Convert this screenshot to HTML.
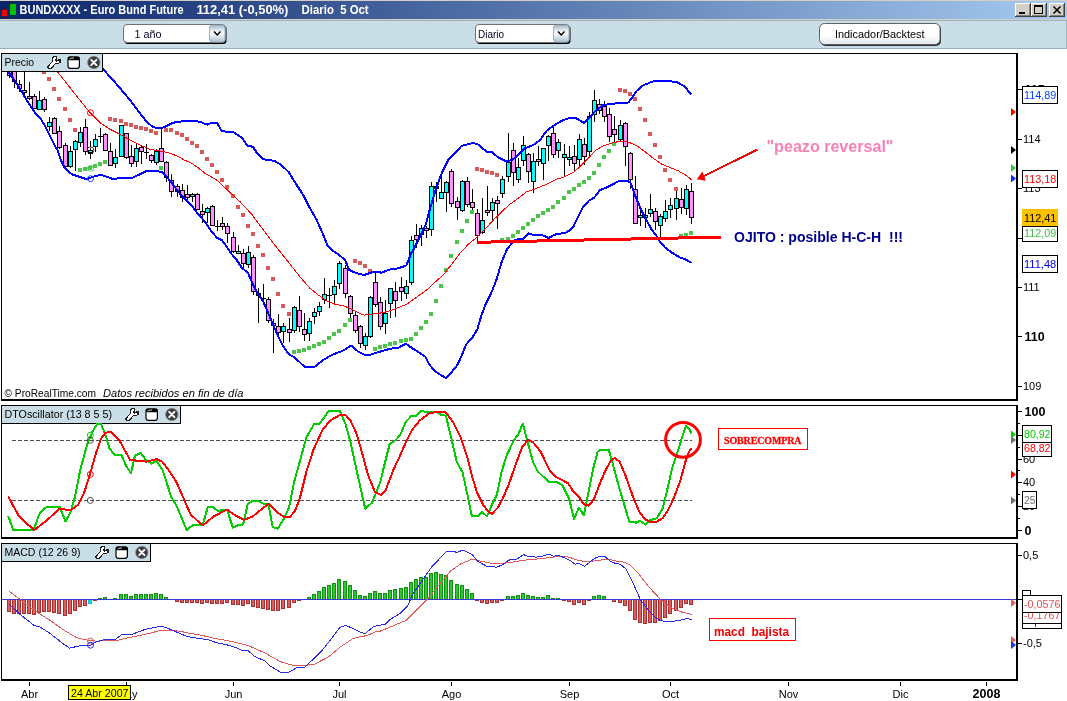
<!DOCTYPE html>
<html><head><meta charset="utf-8"><title>BUNDXXXX - Euro Bund Future</title>
<style>
html,body{margin:0;padding:0;background:#fff;}
body{width:1067px;height:701px;overflow:hidden;font-family:"Liberation Sans",sans-serif;}
svg{display:block;position:absolute;left:0;top:0;will-change:transform;}
text{font-family:"Liberation Sans",sans-serif;}
.serif{font-family:"Liberation Serif",serif;}
.ce{shape-rendering:crispEdges;}
</style></head><body>
<svg width="1067" height="701" viewBox="0 0 1067 701">
<defs>
<linearGradient id="tg" x1="0" x2="1" y1="0" y2="0"><stop offset="0" stop-color="#0a246a"/><stop offset="1" stop-color="#a6caf0"/></linearGradient>
<linearGradient id="bg1" x1="0" x2="0" y1="0" y2="1"><stop offset="0" stop-color="#ffffff"/><stop offset="0.55" stop-color="#ffffff"/><stop offset="1" stop-color="#dfe8ee"/></linearGradient>
<linearGradient id="dd" x1="0" x2="0" y1="0" y2="1"><stop offset="0" stop-color="#9fbccb"/><stop offset="0.45" stop-color="#ffffff"/><stop offset="1" stop-color="#a9c3d0"/></linearGradient>
<pattern id="dots" width="4" height="4" patternUnits="userSpaceOnUse"><rect width="4" height="4" fill="#c8dce6"/><rect x="1" y="0" width="1" height="1" fill="#d6e6ee"/><rect x="3" y="2" width="1" height="1" fill="#d6e6ee"/></pattern>
<clipPath id="cpMain"><rect x="2" y="54" width="1014" height="345"/></clipPath>
<clipPath id="cpDto"><rect x="2" y="406" width="1014" height="131"/></clipPath>
<clipPath id="cpMacd"><rect x="2" y="544" width="1014" height="135"/></clipPath>
</defs>
<rect width="1067" height="701" fill="#ffffff"/>

<g class="ce">
<rect x="0" y="0" width="1067" height="1" fill="#d4d0c8"/>
<rect x="0" y="1" width="1067" height="18" fill="url(#tg)"/>
<rect x="0" y="19" width="1067" height="1" fill="#d4d0c8"/>
<rect x="0" y="20" width="1067" height="29" fill="url(#dots)"/>
<rect x="0" y="20" width="1067" height="1" fill="#9fb3bd"/>
<rect x="0" y="48" width="1067" height="1" fill="#9ab0ba"/>
<rect x="1066" y="20" width="1" height="29" fill="#9db1bf"/>
<rect x="2" y="10" width="5" height="6" fill="#ff0000"/><rect x="4" y="8" width="1" height="2" fill="#800000"/><rect x="4" y="16" width="1" height="2" fill="#800000"/>
<rect x="10" y="4" width="6" height="11" fill="#00c000"/><rect x="12" y="2" width="1" height="2" fill="#004000"/><rect x="12" y="15" width="1" height="3" fill="#004000"/>
</g>
<g fill="#ffffff" font-weight="bold" font-size="12px">
<text x="19.6" y="14.2" textLength="164" lengthAdjust="spacingAndGlyphs">BUNDXXXX - Euro Bund Future</text>
<text x="196.4" y="14.2" font-size="12px" textLength="92" lengthAdjust="spacingAndGlyphs">112,41 (-0,50%)</text>
<text x="301.6" y="14.2" textLength="67" lengthAdjust="spacingAndGlyphs" xml:space="preserve" style="white-space:pre">Diario  5 Oct</text>
</g>
<g class="ce"><rect x="1015" y="3" width="16" height="14" fill="#404040"/><rect x="1015" y="3" width="15" height="13" fill="#ffffff"/><rect x="1016" y="4" width="14" height="12" fill="#808080"/><rect x="1016" y="4" width="13" height="11" fill="#d4d0c8"/></g>
<g class="ce"><rect x="1031" y="3" width="16" height="14" fill="#404040"/><rect x="1031" y="3" width="15" height="13" fill="#ffffff"/><rect x="1032" y="4" width="14" height="12" fill="#808080"/><rect x="1032" y="4" width="13" height="11" fill="#d4d0c8"/></g>
<g class="ce"><rect x="1049" y="3" width="16" height="14" fill="#404040"/><rect x="1049" y="3" width="15" height="13" fill="#ffffff"/><rect x="1050" y="4" width="14" height="12" fill="#808080"/><rect x="1050" y="4" width="13" height="11" fill="#d4d0c8"/></g>
<g class="ce" fill="#000">
<rect x="1019" y="12" width="6" height="2"/>
<rect x="1034" y="5" width="9" height="2"/><rect x="1034" y="5" width="1" height="9"/><rect x="1042" y="5" width="1" height="9"/><rect x="1034" y="13" width="9" height="1"/>
</g>
<path d="M1053.5 6.5 L1060.5 13.5 M1060.5 6.5 L1053.5 13.5" stroke="#000" stroke-width="1.6" fill="none"/>
<rect x="124.5" y="25.5" width="102" height="18.5" rx="3.5" fill="#000"/>
<rect x="123.5" y="24.5" width="102" height="18" rx="3.5" fill="#ffffff" stroke="#707070" stroke-width="1"/>
<rect x="209.5" y="25" width="15.5" height="17" rx="3" fill="url(#dd)" stroke="#8fa3ae" stroke-width="0.8"/>
<path d="M214.0 31.5 L217.2 35 L220.5 31.5" stroke="#000" stroke-width="1.5" fill="none"/>
<text x="134.5" y="37.5" font-size="11px" fill="#000020" textLength="27" lengthAdjust="spacingAndGlyphs">1 año</text>
<rect x="476.5" y="25.5" width="94" height="18.5" rx="3.5" fill="#000"/>
<rect x="475.5" y="24.5" width="94" height="18" rx="3.5" fill="#ffffff" stroke="#707070" stroke-width="1"/>
<rect x="553.5" y="25" width="15.5" height="17" rx="3" fill="url(#dd)" stroke="#8fa3ae" stroke-width="0.8"/>
<path d="M558.0 31.5 L561.2 35 L564.5 31.5" stroke="#000" stroke-width="1.5" fill="none"/>
<text x="478" y="37.5" font-size="11px" fill="#000020" textLength="26" lengthAdjust="spacingAndGlyphs">Diario</text>
<rect x="820.5" y="24.5" width="120.5" height="21.5" rx="5" fill="#303030"/>
<rect x="819.5" y="23.5" width="120.5" height="21" rx="5" fill="url(#bg1)" stroke="#606060" stroke-width="1"/>
<text x="835" y="38" font-size="11px" fill="#000" textLength="89.5" lengthAdjust="spacingAndGlyphs">Indicador/Backtest</text>
<g class="ce" fill="#000"><rect x="1" y="53" width="1017" height="1"/><rect x="1" y="53" width="1" height="348"/><rect x="1016" y="53" width="2" height="348"/><rect x="1" y="399" width="1017" height="2"/></g>
<g class="ce" fill="#000"><rect x="1" y="405" width="1017" height="1"/><rect x="1" y="405" width="1" height="134"/><rect x="1016" y="405" width="2" height="134"/><rect x="1" y="537" width="1017" height="2"/></g>
<g class="ce" fill="#000"><rect x="1" y="543" width="1017" height="1"/><rect x="1" y="543" width="1" height="138"/><rect x="1016" y="543" width="2" height="138"/><rect x="1" y="679" width="1017" height="2"/></g>
<g clip-path="url(#cpMain)">
<g class="ce">
<rect x="42" y="70" width="4" height="4" fill="#d65a5a"/>
<rect x="47" y="77" width="4" height="4" fill="#d65a5a"/>
<rect x="52" y="87" width="4" height="4" fill="#d65a5a"/>
<rect x="57" y="97" width="4" height="4" fill="#d65a5a"/>
<rect x="63" y="107" width="4" height="4" fill="#d65a5a"/>
<rect x="68" y="118" width="4" height="4" fill="#d65a5a"/>
<rect x="73" y="128" width="4" height="4" fill="#d65a5a"/>
<rect x="78" y="168" width="4" height="4" fill="#4cc44c"/>
<rect x="83" y="167" width="4" height="4" fill="#4cc44c"/>
<rect x="88" y="166" width="4" height="4" fill="#4cc44c"/>
<rect x="93" y="164" width="4" height="4" fill="#4cc44c"/>
<rect x="98" y="162" width="4" height="4" fill="#4cc44c"/>
<rect x="103" y="160" width="4" height="4" fill="#4cc44c"/>
<rect x="108" y="117" width="4" height="4" fill="#d65a5a"/>
<rect x="113" y="118" width="4" height="4" fill="#d65a5a"/>
<rect x="119" y="119" width="4" height="4" fill="#d65a5a"/>
<rect x="124" y="122" width="4" height="4" fill="#d65a5a"/>
<rect x="129" y="123" width="4" height="4" fill="#d65a5a"/>
<rect x="134" y="125" width="4" height="4" fill="#d65a5a"/>
<rect x="139" y="126" width="4" height="4" fill="#d65a5a"/>
<rect x="144" y="127" width="4" height="4" fill="#d65a5a"/>
<rect x="149" y="129" width="4" height="4" fill="#d65a5a"/>
<rect x="154" y="131" width="4" height="4" fill="#d65a5a"/>
<rect x="159" y="166" width="4" height="4" fill="#4cc44c"/>
<rect x="164" y="128" width="4" height="4" fill="#d65a5a"/>
<rect x="169" y="128" width="4" height="4" fill="#d65a5a"/>
<rect x="175" y="131" width="4" height="4" fill="#d65a5a"/>
<rect x="180" y="133" width="4" height="4" fill="#d65a5a"/>
<rect x="185" y="137" width="4" height="4" fill="#d65a5a"/>
<rect x="190" y="141" width="4" height="4" fill="#d65a5a"/>
<rect x="195" y="144" width="4" height="4" fill="#d65a5a"/>
<rect x="200" y="150" width="4" height="4" fill="#d65a5a"/>
<rect x="205" y="157" width="4" height="4" fill="#d65a5a"/>
<rect x="210" y="163" width="4" height="4" fill="#d65a5a"/>
<rect x="215" y="170" width="4" height="4" fill="#d65a5a"/>
<rect x="220" y="178" width="4" height="4" fill="#d65a5a"/>
<rect x="225" y="185" width="4" height="4" fill="#d65a5a"/>
<rect x="231" y="194" width="4" height="4" fill="#d65a5a"/>
<rect x="236" y="205" width="4" height="4" fill="#d65a5a"/>
<rect x="241" y="213" width="4" height="4" fill="#d65a5a"/>
<rect x="246" y="224" width="4" height="4" fill="#d65a5a"/>
<rect x="251" y="232" width="4" height="4" fill="#d65a5a"/>
<rect x="256" y="244" width="4" height="4" fill="#d65a5a"/>
<rect x="261" y="253" width="4" height="4" fill="#d65a5a"/>
<rect x="266" y="266" width="4" height="4" fill="#d65a5a"/>
<rect x="271" y="277" width="4" height="4" fill="#d65a5a"/>
<rect x="276" y="292" width="4" height="4" fill="#d65a5a"/>
<rect x="281" y="304" width="4" height="4" fill="#d65a5a"/>
<rect x="287" y="312" width="4" height="4" fill="#d65a5a"/>
<rect x="292" y="350" width="4" height="4" fill="#4cc44c"/>
<rect x="297" y="349" width="4" height="4" fill="#4cc44c"/>
<rect x="302" y="348" width="4" height="4" fill="#4cc44c"/>
<rect x="307" y="346" width="4" height="4" fill="#4cc44c"/>
<rect x="312" y="344" width="4" height="4" fill="#4cc44c"/>
<rect x="317" y="342" width="4" height="4" fill="#4cc44c"/>
<rect x="322" y="340" width="4" height="4" fill="#4cc44c"/>
<rect x="327" y="336" width="4" height="4" fill="#4cc44c"/>
<rect x="332" y="332" width="4" height="4" fill="#4cc44c"/>
<rect x="337" y="329" width="4" height="4" fill="#4cc44c"/>
<rect x="343" y="323" width="4" height="4" fill="#4cc44c"/>
<rect x="348" y="318" width="4" height="4" fill="#4cc44c"/>
<rect x="353" y="259" width="4" height="4" fill="#d65a5a"/>
<rect x="358" y="261" width="4" height="4" fill="#d65a5a"/>
<rect x="363" y="264" width="4" height="4" fill="#d65a5a"/>
<rect x="368" y="269" width="4" height="4" fill="#d65a5a"/>
<rect x="373" y="347" width="4" height="4" fill="#4cc44c"/>
<rect x="378" y="345" width="4" height="4" fill="#4cc44c"/>
<rect x="383" y="344" width="4" height="4" fill="#4cc44c"/>
<rect x="388" y="342" width="4" height="4" fill="#4cc44c"/>
<rect x="393" y="341" width="4" height="4" fill="#4cc44c"/>
<rect x="399" y="339" width="4" height="4" fill="#4cc44c"/>
<rect x="404" y="338" width="4" height="4" fill="#4cc44c"/>
<rect x="409" y="337" width="4" height="4" fill="#4cc44c"/>
<rect x="414" y="332" width="4" height="4" fill="#4cc44c"/>
<rect x="419" y="326" width="4" height="4" fill="#4cc44c"/>
<rect x="424" y="320" width="4" height="4" fill="#4cc44c"/>
<rect x="429" y="312" width="4" height="4" fill="#4cc44c"/>
<rect x="434" y="299" width="4" height="4" fill="#4cc44c"/>
<rect x="439" y="284" width="4" height="4" fill="#4cc44c"/>
<rect x="444" y="268" width="4" height="4" fill="#4cc44c"/>
<rect x="449" y="254" width="4" height="4" fill="#4cc44c"/>
<rect x="455" y="240" width="4" height="4" fill="#4cc44c"/>
<rect x="460" y="229" width="4" height="4" fill="#4cc44c"/>
<rect x="465" y="219" width="4" height="4" fill="#4cc44c"/>
<rect x="470" y="210" width="4" height="4" fill="#4cc44c"/>
<rect x="475" y="167" width="4" height="4" fill="#d65a5a"/>
<rect x="480" y="168" width="4" height="4" fill="#d65a5a"/>
<rect x="485" y="170" width="4" height="4" fill="#d65a5a"/>
<rect x="490" y="171" width="4" height="4" fill="#d65a5a"/>
<rect x="495" y="173" width="4" height="4" fill="#d65a5a"/>
<rect x="500" y="238" width="4" height="4" fill="#4cc44c"/>
<rect x="506" y="237" width="4" height="4" fill="#4cc44c"/>
<rect x="511" y="234" width="4" height="4" fill="#4cc44c"/>
<rect x="516" y="230" width="4" height="4" fill="#4cc44c"/>
<rect x="521" y="226" width="4" height="4" fill="#4cc44c"/>
<rect x="526" y="222" width="4" height="4" fill="#4cc44c"/>
<rect x="531" y="218" width="4" height="4" fill="#4cc44c"/>
<rect x="536" y="214" width="4" height="4" fill="#4cc44c"/>
<rect x="541" y="211" width="4" height="4" fill="#4cc44c"/>
<rect x="546" y="208" width="4" height="4" fill="#4cc44c"/>
<rect x="551" y="205" width="4" height="4" fill="#4cc44c"/>
<rect x="556" y="200" width="4" height="4" fill="#4cc44c"/>
<rect x="562" y="196" width="4" height="4" fill="#4cc44c"/>
<rect x="567" y="190" width="4" height="4" fill="#4cc44c"/>
<rect x="572" y="187" width="4" height="4" fill="#4cc44c"/>
<rect x="577" y="183" width="4" height="4" fill="#4cc44c"/>
<rect x="582" y="180" width="4" height="4" fill="#4cc44c"/>
<rect x="587" y="176" width="4" height="4" fill="#4cc44c"/>
<rect x="592" y="171" width="4" height="4" fill="#4cc44c"/>
<rect x="597" y="163" width="4" height="4" fill="#4cc44c"/>
<rect x="602" y="155" width="4" height="4" fill="#4cc44c"/>
<rect x="607" y="149" width="4" height="4" fill="#4cc44c"/>
<rect x="612" y="142" width="4" height="4" fill="#4cc44c"/>
<rect x="618" y="88" width="4" height="4" fill="#d65a5a"/>
<rect x="623" y="89" width="4" height="4" fill="#d65a5a"/>
<rect x="628" y="92" width="4" height="4" fill="#d65a5a"/>
<rect x="633" y="97" width="4" height="4" fill="#d65a5a"/>
<rect x="638" y="107" width="4" height="4" fill="#d65a5a"/>
<rect x="643" y="118" width="4" height="4" fill="#d65a5a"/>
<rect x="648" y="132" width="4" height="4" fill="#d65a5a"/>
<rect x="653" y="143" width="4" height="4" fill="#d65a5a"/>
<rect x="658" y="155" width="4" height="4" fill="#d65a5a"/>
<rect x="663" y="168" width="4" height="4" fill="#d65a5a"/>
<rect x="668" y="178" width="4" height="4" fill="#d65a5a"/>
<rect x="674" y="187" width="4" height="4" fill="#d65a5a"/>
<rect x="679" y="234" width="4" height="4" fill="#4cc44c"/>
<rect x="684" y="233" width="4" height="4" fill="#4cc44c"/>
<rect x="689" y="231" width="4" height="4" fill="#4cc44c"/>
</g>
<g class="ce">
<rect x="9" y="62" width="1" height="16" fill="#000"/>
<rect x="7" y="64" width="5" height="12" fill="#000"/>
<rect x="8" y="65" width="3" height="10" fill="#ff90ff"/>
<rect x="14" y="66" width="1" height="22" fill="#000"/>
<rect x="12" y="68" width="5" height="14" fill="#000"/>
<rect x="13" y="69" width="3" height="12" fill="#ff90ff"/>
<rect x="19" y="80" width="1" height="12" fill="#000"/>
<rect x="17" y="84" width="5" height="5" fill="#000"/>
<rect x="18" y="85" width="3" height="3" fill="#ff90ff"/>
<rect x="24" y="60" width="1" height="36" fill="#000"/>
<rect x="22" y="90" width="5" height="3" fill="#000"/>
<rect x="23" y="91" width="3" height="1" fill="#ff90ff"/>
<rect x="29" y="82" width="1" height="18" fill="#000"/>
<rect x="27" y="96" width="5" height="3" fill="#000"/>
<rect x="28" y="97" width="3" height="1" fill="#ff90ff"/>
<rect x="34" y="94" width="1" height="15" fill="#000"/>
<rect x="32" y="96" width="5" height="13" fill="#000"/>
<rect x="33" y="97" width="3" height="11" fill="#ff90ff"/>
<rect x="39" y="91" width="1" height="19" fill="#000"/>
<rect x="37" y="100" width="5" height="10" fill="#000"/>
<rect x="38" y="101" width="3" height="8" fill="#00ffff"/>
<rect x="44" y="97" width="1" height="15" fill="#000"/>
<rect x="42" y="99" width="5" height="11" fill="#000"/>
<rect x="43" y="100" width="3" height="9" fill="#ff90ff"/>
<rect x="49" y="117" width="1" height="14" fill="#000"/>
<rect x="47" y="122" width="5" height="5" fill="#000"/>
<rect x="48" y="123" width="3" height="3" fill="#00ffff"/>
<rect x="54" y="117" width="1" height="17" fill="#000"/>
<rect x="52" y="118" width="5" height="16" fill="#000"/>
<rect x="53" y="119" width="3" height="14" fill="#ff90ff"/>
<rect x="59" y="126" width="1" height="23" fill="#000"/>
<rect x="57" y="131" width="5" height="17" fill="#000"/>
<rect x="58" y="132" width="3" height="15" fill="#ff90ff"/>
<rect x="65" y="143" width="1" height="25" fill="#000"/>
<rect x="63" y="145" width="5" height="22" fill="#000"/>
<rect x="64" y="146" width="3" height="20" fill="#ff90ff"/>
<rect x="70" y="146" width="1" height="22" fill="#000"/>
<rect x="68" y="151" width="5" height="16" fill="#000"/>
<rect x="69" y="152" width="3" height="14" fill="#00ffff"/>
<rect x="75" y="140" width="1" height="31" fill="#000"/>
<rect x="73" y="141" width="5" height="9" fill="#000"/>
<rect x="74" y="142" width="3" height="7" fill="#00ffff"/>
<rect x="80" y="127" width="1" height="20" fill="#000"/>
<rect x="78" y="132" width="5" height="11" fill="#000"/>
<rect x="79" y="133" width="3" height="9" fill="#00ffff"/>
<rect x="85" y="119" width="1" height="36" fill="#000"/>
<rect x="83" y="127" width="5" height="25" fill="#000"/>
<rect x="84" y="128" width="3" height="23" fill="#ff90ff"/>
<rect x="90" y="141" width="1" height="18" fill="#000"/>
<rect x="88" y="151" width="5" height="3" fill="#000"/>
<rect x="89" y="152" width="3" height="1" fill="#00ffff"/>
<rect x="95" y="134" width="1" height="18" fill="#000"/>
<rect x="93" y="139" width="5" height="8" fill="#000"/>
<rect x="94" y="140" width="3" height="6" fill="#00ffff"/>
<rect x="100" y="128" width="1" height="15" fill="#000"/>
<rect x="98" y="136" width="5" height="1" fill="#000"/>
<rect x="105" y="133" width="1" height="18" fill="#000"/>
<rect x="103" y="134" width="5" height="17" fill="#000"/>
<rect x="104" y="135" width="3" height="15" fill="#ff90ff"/>
<rect x="110" y="143" width="1" height="23" fill="#000"/>
<rect x="108" y="151" width="5" height="15" fill="#000"/>
<rect x="109" y="152" width="3" height="13" fill="#ff90ff"/>
<rect x="115" y="149" width="1" height="19" fill="#000"/>
<rect x="113" y="157" width="5" height="7" fill="#000"/>
<rect x="114" y="158" width="3" height="5" fill="#00ffff"/>
<rect x="121" y="125" width="1" height="32" fill="#000"/>
<rect x="119" y="125" width="5" height="32" fill="#000"/>
<rect x="120" y="126" width="3" height="30" fill="#00ffff"/>
<rect x="126" y="133" width="1" height="26" fill="#000"/>
<rect x="124" y="133" width="5" height="25" fill="#000"/>
<rect x="125" y="134" width="3" height="23" fill="#ff90ff"/>
<rect x="131" y="145" width="1" height="22" fill="#000"/>
<rect x="129" y="156" width="5" height="8" fill="#000"/>
<rect x="130" y="157" width="3" height="6" fill="#ff90ff"/>
<rect x="136" y="143" width="1" height="24" fill="#000"/>
<rect x="134" y="148" width="5" height="14" fill="#000"/>
<rect x="135" y="149" width="3" height="12" fill="#00ffff"/>
<rect x="141" y="145" width="1" height="19" fill="#000"/>
<rect x="139" y="147" width="5" height="5" fill="#000"/>
<rect x="140" y="148" width="3" height="3" fill="#ff90ff"/>
<rect x="146" y="144" width="1" height="15" fill="#000"/>
<rect x="144" y="152" width="5" height="1" fill="#000"/>
<rect x="151" y="154" width="1" height="9" fill="#000"/>
<rect x="149" y="155" width="5" height="6" fill="#000"/>
<rect x="150" y="156" width="3" height="4" fill="#ff90ff"/>
<rect x="156" y="149" width="1" height="16" fill="#000"/>
<rect x="154" y="151" width="5" height="12" fill="#000"/>
<rect x="155" y="152" width="3" height="10" fill="#00ffff"/>
<rect x="161" y="129" width="1" height="33" fill="#000"/>
<rect x="159" y="148" width="5" height="14" fill="#000"/>
<rect x="160" y="149" width="3" height="12" fill="#ff90ff"/>
<rect x="166" y="161" width="1" height="21" fill="#000"/>
<rect x="164" y="162" width="5" height="16" fill="#000"/>
<rect x="165" y="163" width="3" height="14" fill="#ff90ff"/>
<rect x="171" y="174" width="1" height="23" fill="#000"/>
<rect x="169" y="180" width="5" height="12" fill="#000"/>
<rect x="170" y="181" width="3" height="10" fill="#ff90ff"/>
<rect x="177" y="184" width="1" height="13" fill="#000"/>
<rect x="175" y="186" width="5" height="6" fill="#000"/>
<rect x="176" y="187" width="3" height="4" fill="#ff90ff"/>
<rect x="182" y="184" width="1" height="18" fill="#000"/>
<rect x="180" y="190" width="5" height="8" fill="#000"/>
<rect x="181" y="191" width="3" height="6" fill="#ff90ff"/>
<rect x="187" y="185" width="1" height="15" fill="#000"/>
<rect x="185" y="194" width="5" height="4" fill="#000"/>
<rect x="186" y="195" width="3" height="2" fill="#ff90ff"/>
<rect x="192" y="193" width="1" height="9" fill="#000"/>
<rect x="190" y="194" width="5" height="3" fill="#000"/>
<rect x="191" y="195" width="3" height="1" fill="#00ffff"/>
<rect x="197" y="193" width="1" height="17" fill="#000"/>
<rect x="195" y="194" width="5" height="16" fill="#000"/>
<rect x="196" y="195" width="3" height="14" fill="#ff90ff"/>
<rect x="202" y="204" width="1" height="19" fill="#000"/>
<rect x="200" y="211" width="5" height="4" fill="#000"/>
<rect x="201" y="212" width="3" height="2" fill="#ff90ff"/>
<rect x="207" y="207" width="1" height="16" fill="#000"/>
<rect x="205" y="208" width="5" height="5" fill="#000"/>
<rect x="206" y="209" width="3" height="3" fill="#00ffff"/>
<rect x="212" y="205" width="1" height="21" fill="#000"/>
<rect x="210" y="206" width="5" height="20" fill="#000"/>
<rect x="211" y="207" width="3" height="18" fill="#ff90ff"/>
<rect x="217" y="220" width="1" height="11" fill="#000"/>
<rect x="215" y="226" width="5" height="1" fill="#000"/>
<rect x="222" y="217" width="1" height="13" fill="#000"/>
<rect x="220" y="223" width="5" height="4" fill="#000"/>
<rect x="221" y="224" width="3" height="2" fill="#ff90ff"/>
<rect x="227" y="223" width="1" height="20" fill="#000"/>
<rect x="225" y="226" width="5" height="8" fill="#000"/>
<rect x="226" y="227" width="3" height="6" fill="#ff90ff"/>
<rect x="233" y="232" width="1" height="21" fill="#000"/>
<rect x="231" y="237" width="5" height="15" fill="#000"/>
<rect x="232" y="238" width="3" height="13" fill="#ff90ff"/>
<rect x="238" y="245" width="1" height="9" fill="#000"/>
<rect x="236" y="251" width="5" height="3" fill="#000"/>
<rect x="237" y="252" width="3" height="1" fill="#00ffff"/>
<rect x="243" y="249" width="1" height="19" fill="#000"/>
<rect x="241" y="253" width="5" height="11" fill="#000"/>
<rect x="242" y="254" width="3" height="9" fill="#ff90ff"/>
<rect x="248" y="246" width="1" height="22" fill="#000"/>
<rect x="246" y="252" width="5" height="13" fill="#000"/>
<rect x="247" y="253" width="3" height="11" fill="#00ffff"/>
<rect x="253" y="255" width="1" height="40" fill="#000"/>
<rect x="251" y="257" width="5" height="35" fill="#000"/>
<rect x="252" y="258" width="3" height="33" fill="#ff90ff"/>
<rect x="258" y="288" width="1" height="35" fill="#000"/>
<rect x="256" y="293" width="5" height="3" fill="#000"/>
<rect x="257" y="294" width="3" height="1" fill="#00ffff"/>
<rect x="263" y="284" width="1" height="16" fill="#000"/>
<rect x="261" y="298" width="5" height="1" fill="#000"/>
<rect x="268" y="297" width="1" height="26" fill="#000"/>
<rect x="266" y="299" width="5" height="22" fill="#000"/>
<rect x="267" y="300" width="3" height="20" fill="#ff90ff"/>
<rect x="273" y="319" width="1" height="34" fill="#000"/>
<rect x="271" y="323" width="5" height="3" fill="#000"/>
<rect x="272" y="324" width="3" height="1" fill="#ff90ff"/>
<rect x="278" y="314" width="1" height="21" fill="#000"/>
<rect x="276" y="326" width="5" height="7" fill="#000"/>
<rect x="277" y="327" width="3" height="5" fill="#ff90ff"/>
<rect x="283" y="323" width="1" height="20" fill="#000"/>
<rect x="281" y="326" width="5" height="6" fill="#000"/>
<rect x="282" y="327" width="3" height="4" fill="#00ffff"/>
<rect x="289" y="318" width="1" height="24" fill="#000"/>
<rect x="287" y="329" width="5" height="4" fill="#000"/>
<rect x="288" y="330" width="3" height="2" fill="#ff90ff"/>
<rect x="294" y="306" width="1" height="27" fill="#000"/>
<rect x="292" y="307" width="5" height="24" fill="#000"/>
<rect x="293" y="308" width="3" height="22" fill="#00ffff"/>
<rect x="299" y="296" width="1" height="36" fill="#000"/>
<rect x="297" y="310" width="5" height="17" fill="#000"/>
<rect x="298" y="311" width="3" height="15" fill="#ff90ff"/>
<rect x="304" y="313" width="1" height="28" fill="#000"/>
<rect x="302" y="329" width="5" height="6" fill="#000"/>
<rect x="303" y="330" width="3" height="4" fill="#ff90ff"/>
<rect x="309" y="318" width="1" height="23" fill="#000"/>
<rect x="307" y="321" width="5" height="13" fill="#000"/>
<rect x="308" y="322" width="3" height="11" fill="#00ffff"/>
<rect x="314" y="308" width="1" height="16" fill="#000"/>
<rect x="312" y="312" width="5" height="5" fill="#000"/>
<rect x="313" y="313" width="3" height="3" fill="#00ffff"/>
<rect x="319" y="302" width="1" height="14" fill="#000"/>
<rect x="317" y="306" width="5" height="6" fill="#000"/>
<rect x="318" y="307" width="3" height="4" fill="#00ffff"/>
<rect x="324" y="278" width="1" height="26" fill="#000"/>
<rect x="322" y="294" width="5" height="6" fill="#000"/>
<rect x="323" y="295" width="3" height="4" fill="#00ffff"/>
<rect x="329" y="288" width="1" height="20" fill="#000"/>
<rect x="327" y="295" width="5" height="1" fill="#000"/>
<rect x="334" y="280" width="1" height="24" fill="#000"/>
<rect x="332" y="286" width="5" height="9" fill="#000"/>
<rect x="333" y="287" width="3" height="7" fill="#00ffff"/>
<rect x="339" y="261" width="1" height="28" fill="#000"/>
<rect x="337" y="263" width="5" height="21" fill="#000"/>
<rect x="338" y="264" width="3" height="19" fill="#00ffff"/>
<rect x="345" y="265" width="1" height="33" fill="#000"/>
<rect x="343" y="268" width="5" height="26" fill="#000"/>
<rect x="344" y="269" width="3" height="24" fill="#ff90ff"/>
<rect x="350" y="295" width="1" height="23" fill="#000"/>
<rect x="348" y="296" width="5" height="18" fill="#000"/>
<rect x="349" y="297" width="3" height="16" fill="#ff90ff"/>
<rect x="355" y="312" width="1" height="21" fill="#000"/>
<rect x="353" y="315" width="5" height="16" fill="#000"/>
<rect x="354" y="316" width="3" height="14" fill="#ff90ff"/>
<rect x="360" y="325" width="1" height="23" fill="#000"/>
<rect x="358" y="326" width="5" height="18" fill="#000"/>
<rect x="359" y="327" width="3" height="16" fill="#ff90ff"/>
<rect x="365" y="333" width="1" height="17" fill="#000"/>
<rect x="363" y="336" width="5" height="10" fill="#000"/>
<rect x="364" y="337" width="3" height="8" fill="#00ffff"/>
<rect x="370" y="296" width="1" height="42" fill="#000"/>
<rect x="368" y="297" width="5" height="40" fill="#000"/>
<rect x="369" y="298" width="3" height="38" fill="#00ffff"/>
<rect x="375" y="272" width="1" height="35" fill="#000"/>
<rect x="373" y="282" width="5" height="23" fill="#000"/>
<rect x="374" y="283" width="3" height="21" fill="#ff90ff"/>
<rect x="380" y="297" width="1" height="33" fill="#000"/>
<rect x="378" y="302" width="5" height="25" fill="#000"/>
<rect x="379" y="303" width="3" height="23" fill="#ff90ff"/>
<rect x="385" y="300" width="1" height="34" fill="#000"/>
<rect x="383" y="313" width="5" height="11" fill="#000"/>
<rect x="384" y="314" width="3" height="9" fill="#00ffff"/>
<rect x="390" y="288" width="1" height="30" fill="#000"/>
<rect x="388" y="288" width="5" height="16" fill="#000"/>
<rect x="389" y="289" width="3" height="14" fill="#00ffff"/>
<rect x="395" y="282" width="1" height="35" fill="#000"/>
<rect x="393" y="291" width="5" height="10" fill="#000"/>
<rect x="394" y="292" width="3" height="8" fill="#ff90ff"/>
<rect x="401" y="277" width="1" height="24" fill="#000"/>
<rect x="399" y="287" width="5" height="5" fill="#000"/>
<rect x="400" y="288" width="3" height="3" fill="#ff90ff"/>
<rect x="406" y="280" width="1" height="19" fill="#000"/>
<rect x="404" y="286" width="5" height="8" fill="#000"/>
<rect x="405" y="287" width="3" height="6" fill="#00ffff"/>
<rect x="411" y="236" width="1" height="49" fill="#000"/>
<rect x="409" y="240" width="5" height="43" fill="#000"/>
<rect x="410" y="241" width="3" height="41" fill="#00ffff"/>
<rect x="416" y="224" width="1" height="24" fill="#000"/>
<rect x="414" y="235" width="5" height="5" fill="#000"/>
<rect x="415" y="236" width="3" height="3" fill="#ff90ff"/>
<rect x="421" y="225" width="1" height="21" fill="#000"/>
<rect x="419" y="228" width="5" height="7" fill="#000"/>
<rect x="420" y="229" width="3" height="5" fill="#00ffff"/>
<rect x="426" y="226" width="1" height="12" fill="#000"/>
<rect x="424" y="228" width="5" height="3" fill="#000"/>
<rect x="425" y="229" width="3" height="1" fill="#ff90ff"/>
<rect x="431" y="182" width="1" height="54" fill="#000"/>
<rect x="429" y="186" width="5" height="44" fill="#000"/>
<rect x="430" y="187" width="3" height="42" fill="#00ffff"/>
<rect x="436" y="182" width="1" height="20" fill="#000"/>
<rect x="434" y="186" width="5" height="3" fill="#000"/>
<rect x="435" y="187" width="3" height="1" fill="#ff90ff"/>
<rect x="441" y="171" width="1" height="28" fill="#000"/>
<rect x="439" y="192" width="5" height="7" fill="#000"/>
<rect x="440" y="193" width="3" height="5" fill="#00ffff"/>
<rect x="446" y="181" width="1" height="31" fill="#000"/>
<rect x="444" y="182" width="5" height="11" fill="#000"/>
<rect x="445" y="183" width="3" height="9" fill="#00ffff"/>
<rect x="451" y="169" width="1" height="38" fill="#000"/>
<rect x="449" y="171" width="5" height="33" fill="#000"/>
<rect x="450" y="172" width="3" height="31" fill="#ff90ff"/>
<rect x="457" y="197" width="1" height="23" fill="#000"/>
<rect x="455" y="201" width="5" height="7" fill="#000"/>
<rect x="456" y="202" width="3" height="5" fill="#ff90ff"/>
<rect x="462" y="180" width="1" height="32" fill="#000"/>
<rect x="460" y="181" width="5" height="30" fill="#000"/>
<rect x="461" y="182" width="3" height="28" fill="#00ffff"/>
<rect x="467" y="177" width="1" height="30" fill="#000"/>
<rect x="465" y="181" width="5" height="24" fill="#000"/>
<rect x="466" y="182" width="3" height="22" fill="#ff90ff"/>
<rect x="472" y="189" width="1" height="21" fill="#000"/>
<rect x="470" y="202" width="5" height="6" fill="#000"/>
<rect x="471" y="203" width="3" height="4" fill="#ff90ff"/>
<rect x="477" y="209" width="1" height="33" fill="#000"/>
<rect x="475" y="213" width="5" height="23" fill="#000"/>
<rect x="476" y="214" width="3" height="21" fill="#ff90ff"/>
<rect x="482" y="198" width="1" height="36" fill="#000"/>
<rect x="480" y="220" width="5" height="13" fill="#000"/>
<rect x="481" y="221" width="3" height="11" fill="#00ffff"/>
<rect x="487" y="186" width="1" height="30" fill="#000"/>
<rect x="485" y="210" width="5" height="3" fill="#000"/>
<rect x="486" y="211" width="3" height="1" fill="#ff90ff"/>
<rect x="492" y="198" width="1" height="22" fill="#000"/>
<rect x="490" y="202" width="5" height="9" fill="#000"/>
<rect x="491" y="203" width="3" height="7" fill="#00ffff"/>
<rect x="497" y="196" width="1" height="33" fill="#000"/>
<rect x="495" y="200" width="5" height="4" fill="#000"/>
<rect x="496" y="201" width="3" height="2" fill="#ff90ff"/>
<rect x="502" y="176" width="1" height="22" fill="#000"/>
<rect x="500" y="179" width="5" height="15" fill="#000"/>
<rect x="501" y="180" width="3" height="13" fill="#00ffff"/>
<rect x="508" y="133" width="1" height="49" fill="#000"/>
<rect x="506" y="162" width="5" height="15" fill="#000"/>
<rect x="507" y="163" width="3" height="13" fill="#00ffff"/>
<rect x="513" y="143" width="1" height="43" fill="#000"/>
<rect x="511" y="150" width="5" height="23" fill="#000"/>
<rect x="512" y="151" width="3" height="21" fill="#ff90ff"/>
<rect x="518" y="158" width="1" height="25" fill="#000"/>
<rect x="516" y="167" width="5" height="13" fill="#000"/>
<rect x="517" y="168" width="3" height="11" fill="#00ffff"/>
<rect x="523" y="136" width="1" height="30" fill="#000"/>
<rect x="521" y="145" width="5" height="16" fill="#000"/>
<rect x="522" y="146" width="3" height="14" fill="#00ffff"/>
<rect x="528" y="153" width="1" height="30" fill="#000"/>
<rect x="526" y="154" width="5" height="18" fill="#000"/>
<rect x="527" y="155" width="3" height="16" fill="#ff90ff"/>
<rect x="533" y="153" width="1" height="40" fill="#000"/>
<rect x="531" y="161" width="5" height="21" fill="#000"/>
<rect x="532" y="162" width="3" height="19" fill="#00ffff"/>
<rect x="538" y="146" width="1" height="20" fill="#000"/>
<rect x="536" y="159" width="5" height="3" fill="#000"/>
<rect x="537" y="160" width="3" height="1" fill="#ff90ff"/>
<rect x="543" y="148" width="1" height="32" fill="#000"/>
<rect x="541" y="148" width="5" height="16" fill="#000"/>
<rect x="542" y="149" width="3" height="14" fill="#00ffff"/>
<rect x="548" y="135" width="1" height="26" fill="#000"/>
<rect x="546" y="136" width="5" height="10" fill="#000"/>
<rect x="547" y="137" width="3" height="8" fill="#00ffff"/>
<rect x="553" y="127" width="1" height="31" fill="#000"/>
<rect x="551" y="133" width="5" height="22" fill="#000"/>
<rect x="552" y="134" width="3" height="20" fill="#ff90ff"/>
<rect x="558" y="139" width="1" height="19" fill="#000"/>
<rect x="556" y="142" width="5" height="9" fill="#000"/>
<rect x="557" y="143" width="3" height="7" fill="#00ffff"/>
<rect x="564" y="144" width="1" height="33" fill="#000"/>
<rect x="562" y="154" width="5" height="4" fill="#000"/>
<rect x="563" y="155" width="3" height="2" fill="#00ffff"/>
<rect x="569" y="146" width="1" height="20" fill="#000"/>
<rect x="567" y="157" width="5" height="3" fill="#000"/>
<rect x="568" y="158" width="3" height="1" fill="#00ffff"/>
<rect x="574" y="145" width="1" height="27" fill="#000"/>
<rect x="572" y="156" width="5" height="8" fill="#000"/>
<rect x="573" y="157" width="3" height="6" fill="#ff90ff"/>
<rect x="579" y="134" width="1" height="33" fill="#000"/>
<rect x="577" y="139" width="5" height="21" fill="#000"/>
<rect x="578" y="140" width="3" height="19" fill="#00ffff"/>
<rect x="584" y="138" width="1" height="27" fill="#000"/>
<rect x="582" y="144" width="5" height="13" fill="#000"/>
<rect x="583" y="145" width="3" height="11" fill="#ff90ff"/>
<rect x="589" y="112" width="1" height="46" fill="#000"/>
<rect x="587" y="116" width="5" height="36" fill="#000"/>
<rect x="588" y="117" width="3" height="34" fill="#00ffff"/>
<rect x="594" y="90" width="1" height="32" fill="#000"/>
<rect x="592" y="100" width="5" height="15" fill="#000"/>
<rect x="593" y="101" width="3" height="13" fill="#00ffff"/>
<rect x="599" y="99" width="1" height="15" fill="#000"/>
<rect x="597" y="104" width="5" height="7" fill="#000"/>
<rect x="598" y="105" width="3" height="5" fill="#ff90ff"/>
<rect x="604" y="101" width="1" height="21" fill="#000"/>
<rect x="602" y="106" width="5" height="11" fill="#000"/>
<rect x="603" y="107" width="3" height="9" fill="#ff90ff"/>
<rect x="609" y="108" width="1" height="34" fill="#000"/>
<rect x="607" y="114" width="5" height="23" fill="#000"/>
<rect x="608" y="115" width="3" height="21" fill="#ff90ff"/>
<rect x="614" y="116" width="1" height="26" fill="#000"/>
<rect x="612" y="129" width="5" height="6" fill="#000"/>
<rect x="613" y="130" width="3" height="4" fill="#ff90ff"/>
<rect x="620" y="120" width="1" height="21" fill="#000"/>
<rect x="618" y="125" width="5" height="15" fill="#000"/>
<rect x="619" y="126" width="3" height="13" fill="#00ffff"/>
<rect x="625" y="122" width="1" height="44" fill="#000"/>
<rect x="623" y="123" width="5" height="24" fill="#000"/>
<rect x="624" y="124" width="3" height="22" fill="#ff90ff"/>
<rect x="630" y="152" width="1" height="37" fill="#000"/>
<rect x="628" y="153" width="5" height="27" fill="#000"/>
<rect x="629" y="154" width="3" height="25" fill="#ff90ff"/>
<rect x="635" y="176" width="1" height="48" fill="#000"/>
<rect x="633" y="189" width="5" height="35" fill="#000"/>
<rect x="634" y="190" width="3" height="33" fill="#ff90ff"/>
<rect x="640" y="207" width="1" height="19" fill="#000"/>
<rect x="638" y="215" width="5" height="3" fill="#000"/>
<rect x="639" y="216" width="3" height="1" fill="#00ffff"/>
<rect x="645" y="208" width="1" height="20" fill="#000"/>
<rect x="643" y="215" width="5" height="3" fill="#000"/>
<rect x="644" y="216" width="3" height="1" fill="#00ffff"/>
<rect x="650" y="194" width="1" height="23" fill="#000"/>
<rect x="648" y="209" width="5" height="5" fill="#000"/>
<rect x="649" y="210" width="3" height="3" fill="#00ffff"/>
<rect x="655" y="208" width="1" height="22" fill="#000"/>
<rect x="653" y="211" width="5" height="11" fill="#000"/>
<rect x="654" y="212" width="3" height="9" fill="#ff90ff"/>
<rect x="660" y="214" width="1" height="23" fill="#000"/>
<rect x="658" y="216" width="5" height="10" fill="#000"/>
<rect x="659" y="217" width="3" height="8" fill="#00ffff"/>
<rect x="665" y="200" width="1" height="22" fill="#000"/>
<rect x="663" y="211" width="5" height="8" fill="#000"/>
<rect x="664" y="212" width="3" height="6" fill="#00ffff"/>
<rect x="670" y="198" width="1" height="20" fill="#000"/>
<rect x="668" y="205" width="5" height="5" fill="#000"/>
<rect x="669" y="206" width="3" height="3" fill="#00ffff"/>
<rect x="676" y="191" width="1" height="29" fill="#000"/>
<rect x="674" y="198" width="5" height="11" fill="#000"/>
<rect x="675" y="199" width="3" height="9" fill="#00ffff"/>
<rect x="681" y="188" width="1" height="26" fill="#000"/>
<rect x="679" y="199" width="5" height="9" fill="#000"/>
<rect x="680" y="200" width="3" height="7" fill="#ff90ff"/>
<rect x="686" y="185" width="1" height="30" fill="#000"/>
<rect x="684" y="189" width="5" height="20" fill="#000"/>
<rect x="685" y="190" width="3" height="18" fill="#00ffff"/>
<rect x="691" y="183" width="1" height="41" fill="#000"/>
<rect x="689" y="191" width="5" height="27" fill="#000"/>
<rect x="690" y="192" width="3" height="25" fill="#ff90ff"/>
</g>
<polyline points="102.5,68.5 116.7,84.3 130.0,100.0 140.0,113.5 146.7,121.8 153.3,127.3 160.8,128.5 166.7,126.0 173.3,122.7 178.0,122.0 185.5,120.7 194.7,120.7 201.3,122.3 207.2,124.7 212.2,122.7 217.2,122.7 221.3,130.7 226.3,131.8 233.0,131.8 242.2,138.0 247.2,145.7 253.0,146.8 257.2,153.5 263.8,159.3 273.8,160.7 280.5,164.3 288.8,172.2 296.7,185.0 303.3,195.0 310.0,208.3 316.7,220.0 323.3,235.0 327.7,245.8 331.7,250.0 338.3,254.2 345.0,260.0 349.2,270.0 356.7,273.3 364.2,275.0 371.7,272.4 375.3,271.5 381.5,272.7 389.7,269.6 398.0,268.4 404.2,266.3 406.2,265.5 409.3,258.1 411.4,252.9 413.5,249.8 416.0,244.7 418.6,239.5 422.7,231.3 426.3,223.0 429.2,211.7 431.7,203.3 436.7,186.7 441.7,173.3 448.3,160.0 455.0,153.3 461.7,145.8 468.3,144.2 473.3,143.0 478.3,144.7 486.7,151.7 491.7,152.0 498.3,157.5 506.7,161.7 513.3,159.2 520.0,153.3 525.0,148.3 533.3,145.0 540.0,140.0 546.7,130.8 553.3,125.8 561.7,120.8 570.0,117.7 576.7,118.5 584.2,123.0 588.3,118.7 595.0,111.5 603.3,105.0 613.3,103.7 621.7,102.8 628.3,102.5 631.7,98.3 636.7,90.8 643.3,85.3 653.3,81.3 665.0,80.8 676.7,82.0 685.0,86.7 691.2,94.7" fill="none" stroke="#0000ff" stroke-width="2" stroke-linejoin="round" shape-rendering="crispEdges"/>
<polyline points="8.3,71.8 15.0,81.0 21.7,91.8 29.0,104.0 35.0,112.7 40.0,117.7 45.0,126.0 50.0,136.0 55.0,146.0 57.5,150.0 60.8,160.0 65.0,168.3 71.7,174.2 80.0,177.0 86.7,179.2 93.3,176.7 100.8,174.7 106.7,176.7 113.3,179.2 121.7,177.5 131.7,178.0 140.0,174.2 146.7,170.8 156.7,170.8 162.5,172.5 166.7,176.7 171.7,183.0 178.3,191.7 185.0,199.2 191.7,205.8 198.3,214.2 205.0,221.7 211.7,231.7 216.7,237.5 221.7,240.0 226.7,246.7 231.7,254.2 236.7,260.0 241.7,267.5 248.3,273.3 251.7,281.7 256.7,291.7 263.3,301.7 268.3,313.3 273.3,325.0 278.3,336.7 283.3,346.5 289.2,354.5 294.2,357.0 304.2,366.5 315.0,366.5 323.3,360.0 331.7,355.0 343.3,350.5 351.2,345.5 358.3,351.7 365.0,355.0 370.8,354.7 376.7,352.5 383.3,350.8 390.0,348.7 398.3,347.8 405.8,343.8 415.0,350.0 420.0,353.0 425.5,356.9 429.4,364.7 434.9,371.0 442.0,375.7 445.9,378.0 451.4,372.5 457.6,364.7 462.4,353.7 466.3,344.3 472.5,337.3 477.3,329.4 481.2,316.1 485.9,303.5 491.4,292.5 496.4,280.0 501.7,261.7 507.5,248.3 515.0,240.0 520.0,238.7 523.4,238.7 528.6,233.4 533.7,235.0 540.5,235.0 544.5,235.9 548.5,238.2 553.1,235.5 557.6,233.6 564.5,233.4 569.0,230.8 573.6,226.2 578.2,216.5 582.7,207.4 589.0,200.5 594.1,197.7 599.8,190.3 606.7,187.4 613.5,184.0 619.2,180.9 627.2,180.9 630.1,182.3 632.6,188.0 634.7,194.8 637.8,202.0 640.9,209.2 646.1,219.5 651.2,228.8 656.4,236.0 659.5,241.0 665.0,247.5 671.7,252.5 680.0,257.5 686.7,260.0 691.7,263.0" fill="none" stroke="#0000ff" stroke-width="2" stroke-linejoin="round" shape-rendering="crispEdges"/>
<polyline points="57.5,71.8 73.3,91.8 90.0,112.7 100.0,122.7 110.0,129.3 120.0,134.3 130.0,140.0 140.0,145.0 150.0,149.3 160.0,151.0 168.3,152.7 176.7,155.8 184.7,160.2 191.7,163.3 198.0,167.7 205.0,173.3 216.7,180.0 228.3,190.8 240.0,201.7 251.7,214.2 263.3,230.0 273.3,243.3 276.7,247.5 285.0,257.8 293.3,268.3 301.7,278.8 310.0,288.3 318.3,295.0 326.7,300.8 335.0,304.2 343.3,305.8 350.0,308.3 356.7,312.0 364.2,315.2 370.0,314.2 376.7,313.8 386.7,311.7 396.7,308.3 406.7,304.2 415.0,298.3 426.7,290.0 438.3,279.2 443.3,275.0 451.7,264.2 460.0,253.3 468.3,244.2 476.7,237.5 485.0,229.2 493.3,220.0 501.7,211.7 510.0,204.2 518.3,198.3 526.7,191.7 536.7,188.3 546.7,184.2 556.7,179.2 565.0,176.7 573.3,172.5 580.0,166.7 586.7,160.0 595.0,150.8 603.3,145.8 611.7,143.0 620.0,141.3 628.3,142.0 636.7,145.8 645.0,151.7 653.3,158.3 661.7,164.2 670.0,167.5 678.3,170.8 686.7,175.8 691.7,180.0" fill="none" stroke="#ff0000" stroke-width="1" stroke-linejoin="round" shape-rendering="crispEdges"/>
<circle cx="90.4" cy="112.7" r="3" fill="none" stroke="#ff0000" stroke-width="1"/>
<circle cx="90.5" cy="178.7" r="3" fill="none" stroke="#2040ff" stroke-width="1"/>
<circle cx="90.5" cy="168.6" r="3" fill="none" stroke="#40c040" stroke-width="1"/>
<path d="M88.2 171 A3 3 0 0 0 92.8 171" fill="none" stroke="#fff" stroke-width="1"/>
<circle cx="90.5" cy="150.2" r="3.3" fill="none" stroke="#000" stroke-width="0.9"/>
<circle cx="90.5" cy="150.2" r="2.4" fill="none" stroke="#fff" stroke-width="1"/>
<g class="ce"><rect x="90" y="153" width="1" height="6" fill="#000"/><rect x="88" y="150" width="5" height="3" fill="#000"/><rect x="89" y="151" width="3" height="1" fill="#00ffff"/></g>
<line x1="477" y1="242.3" x2="721" y2="237.1" stroke="#ff0000" stroke-width="3" shape-rendering="crispEdges"/>
<line x1="757.5" y1="149.5" x2="702" y2="177" stroke="#ff0000" stroke-width="2" shape-rendering="crispEdges"/>
<polygon points="696.7,179.2 702.5,171.5 705.8,180.8" fill="#ff0000"/>
</g>
<text x="766.5" y="152.3" font-size="16px" font-weight="bold" fill="#f880b4" textLength="127" lengthAdjust="spacingAndGlyphs">"peazo reversal"</text>
<text x="734" y="242" font-size="14px" font-weight="bold" fill="#000090" textLength="169" lengthAdjust="spacingAndGlyphs" xml:space="preserve" style="white-space:pre">OJITO : posible H-C-H  !!!</text>
<text x="4.5" y="397" font-size="11px" fill="#000" textLength="91.5" lengthAdjust="spacingAndGlyphs">© ProRealTime.com</text>
<text x="103" y="397" font-size="11px" font-style="italic" fill="#000" textLength="140.5" lengthAdjust="spacingAndGlyphs">Datos recibidos en fin de día</text>
<g class="ce"><rect x="2" y="54" width="100" height="17" fill="url(#dots)"/><rect x="102" y="54" width="1" height="18" fill="#000"/><rect x="2" y="71" width="101" height="1" fill="#000"/></g>
<text x="4.5" y="66.3" font-size="11px" fill="#000" textLength="29.5" lengthAdjust="spacingAndGlyphs">Precio</text>
<g transform="translate(47,56)"><path d="M0.4 11.0 L2.6 12.7 L4.3 12.1 L9.1 7.0 L11.3 7.6 L13.0 6.4 L13.0 3.3 L11.1 3.3 L11.1 4.7 L9.7 5.0 L8.5 3.9 L9.7 2.8 L9.7 0.5 L6.6 0.5 L5.4 2.2 L5.7 5.3 Z" fill="#fff" stroke="#202020" stroke-width="1.1" stroke-linejoin="round" shape-rendering="crispEdges"/></g>
<rect x="68" y="56.9" width="11.4" height="11.4" rx="2.2" fill="#fff" stroke="#000" stroke-width="1.2"/><rect x="68" y="57" width="11.4" height="3.3" rx="1" fill="#000"/><path d="M69.6 59.0 Q71 57.9 74 58.0" stroke="#fff" stroke-width="0.9" fill="none" opacity="0.9"/>
<circle cx="93.8" cy="62.5" r="6.2" fill="#3c3c3c"/><circle cx="93.8" cy="62.5" r="6.2" fill="none" stroke="#8a8a8a" stroke-width="0.8"/><path d="M91.2 59.9 L96.39999999999999 65.1 M96.39999999999999 59.9 L91.2 65.1" stroke="#fff" stroke-width="2" stroke-linecap="round"/>
<g class="ce"><rect x="2" y="406" width="178" height="17" fill="url(#dots)"/><rect x="180" y="406" width="1" height="18" fill="#000"/><rect x="2" y="423" width="179" height="1" fill="#000"/></g>
<text x="4.5" y="418.3" font-size="11px" fill="#000" textLength="107.5" lengthAdjust="spacingAndGlyphs">DTOscillator (13 8 5 5)</text>
<g transform="translate(125,408)"><path d="M0.4 11.0 L2.6 12.7 L4.3 12.1 L9.1 7.0 L11.3 7.6 L13.0 6.4 L13.0 3.3 L11.1 3.3 L11.1 4.7 L9.7 5.0 L8.5 3.9 L9.7 2.8 L9.7 0.5 L6.6 0.5 L5.4 2.2 L5.7 5.3 Z" fill="#fff" stroke="#202020" stroke-width="1.1" stroke-linejoin="round" shape-rendering="crispEdges"/></g>
<rect x="146" y="408.9" width="11.4" height="11.4" rx="2.2" fill="#fff" stroke="#000" stroke-width="1.2"/><rect x="146" y="409" width="11.4" height="3.3" rx="1" fill="#000"/><path d="M147.6 411.0 Q149 409.9 152 410.0" stroke="#fff" stroke-width="0.9" fill="none" opacity="0.9"/>
<circle cx="171.8" cy="414.5" r="6.2" fill="#3c3c3c"/><circle cx="171.8" cy="414.5" r="6.2" fill="none" stroke="#8a8a8a" stroke-width="0.8"/><path d="M169.20000000000002 411.9 L174.4 417.1 M174.4 411.9 L169.20000000000002 417.1" stroke="#fff" stroke-width="2" stroke-linecap="round"/>
<g class="ce"><rect x="2" y="544" width="148" height="17" fill="url(#dots)"/><rect x="150" y="544" width="1" height="18" fill="#000"/><rect x="2" y="561" width="149" height="1" fill="#000"/></g>
<text x="4.5" y="556.3" font-size="11px" fill="#000" textLength="76" lengthAdjust="spacingAndGlyphs">MACD (12 26 9)</text>
<g transform="translate(95,546)"><path d="M0.4 11.0 L2.6 12.7 L4.3 12.1 L9.1 7.0 L11.3 7.6 L13.0 6.4 L13.0 3.3 L11.1 3.3 L11.1 4.7 L9.7 5.0 L8.5 3.9 L9.7 2.8 L9.7 0.5 L6.6 0.5 L5.4 2.2 L5.7 5.3 Z" fill="#fff" stroke="#202020" stroke-width="1.1" stroke-linejoin="round" shape-rendering="crispEdges"/></g>
<rect x="116" y="546.9" width="11.4" height="11.4" rx="2.2" fill="#fff" stroke="#000" stroke-width="1.2"/><rect x="116" y="547" width="11.4" height="3.3" rx="1" fill="#000"/><path d="M117.6 549.0 Q119 547.9 122 548.0" stroke="#fff" stroke-width="0.9" fill="none" opacity="0.9"/>
<circle cx="141.8" cy="552.5" r="6.2" fill="#3c3c3c"/><circle cx="141.8" cy="552.5" r="6.2" fill="none" stroke="#8a8a8a" stroke-width="0.8"/><path d="M139.20000000000002 549.9 L144.4 555.1 M144.4 549.9 L139.20000000000002 555.1" stroke="#fff" stroke-width="2" stroke-linecap="round"/>
<g clip-path="url(#cpDto)">
<line x1="12" y1="440.5" x2="692" y2="440.5" stroke="#505050" stroke-width="1" stroke-dasharray="4,2" class="ce"/>
<line x1="12" y1="500.5" x2="692" y2="500.5" stroke="#505050" stroke-width="1" stroke-dasharray="4,2" class="ce"/>
<polyline points="8.2,516.0 13.3,530.1 33.6,530.1 39.1,514.4 45.0,507.6 59.6,506.6 65.5,521.3 70.4,512.5 75.0,496.8 80.3,469.5 87.3,444.1 92.5,431.5 96.8,424.3 101.2,424.3 106.2,437.2 109.3,448.0 114.4,454.8 121.2,454.8 126.1,465.6 131.0,473.4 134.9,455.8 140.8,452.9 145.6,459.7 151.5,463.6 156.4,460.7 162.3,469.5 166.2,481.2 171.1,496.8 176.0,504.7 181.8,518.3 186.7,530.1 192.6,525.2 200.0,525.2 202.9,524.2 207.8,507.0 212.7,507.0 218.6,511.5 222.5,509.5 227.0,509.5 232.8,527.7 238.1,525.2 243.0,524.6 247.9,503.7 251.8,501.3 257.7,500.8 263.5,503.7 268.4,504.3 272.7,527.1 277.8,528.7 284.1,518.3 289.0,507.6 293.8,483.2 299.7,461.7 306.5,437.2 314.4,423.5 319.6,423.5 329.0,410.8 339.8,410.8 345.6,424.5 350.5,442.1 356.4,469.5 365.2,508.6 372.0,502.7 379.9,483.2 389.6,444.1 395.5,440.1 400.0,435.3 405.9,421.6 411.7,415.7 416.6,415.7 421.5,410.8 425.4,411.8 436.2,411.8 441.1,414.7 445.9,415.7 450.8,436.2 456.7,461.7 462.6,472.4 467.4,494.9 471.9,516.4 477.2,516.4 482.1,511.9 487.0,516.4 491.9,504.7 496.8,494.9 501.7,471.4 506.5,455.8 513.4,441.1 518.3,434.3 522.8,423.5 527.1,440.1 532.9,461.7 537.8,471.4 548.6,481.8 556.4,481.8 562.3,485.1 569.1,498.8 574.0,518.9 578.9,507.6 583.8,515.4 588.7,491.0 593.5,467.5 597.5,451.9 600.0,449.9 608.8,449.9 613.7,467.5 619.6,489.0 625.4,508.6 629.3,521.7 636.2,522.6 640.1,520.9 645.9,524.6 649.9,520.3 656.7,518.3 662.6,508.6 667.4,489.0 672.3,467.5 678.2,449.9 683.1,434.3 686.0,426.1 689.0,428.4 691.5,433.3" fill="none" stroke="#00cc00" stroke-width="2" stroke-linejoin="round" shape-rendering="crispEdges"/>
<polyline points="8.2,496.5 13.7,506.6 18.6,515.4 25.4,522.3 34.2,530.1 46.9,520.3 59.6,508.6 70.4,510.5 78.2,504.7 84.1,492.9 89.9,474.4 95.8,453.8 100.7,439.2 105.6,432.7 110.5,431.9 119.3,440.1 125.1,450.9 130.0,459.7 136.9,460.7 146.6,461.7 156.4,459.1 162.3,461.7 168.1,469.5 176.0,481.2 183.8,498.8 190.6,514.4 200.0,523.2 202.9,525.2 213.7,516.4 227.0,509.5 235.2,515.4 244.0,519.9 252.8,516.4 268.4,503.7 276.2,511.5 284.1,516.8 289.9,516.8 294.8,511.5 299.7,498.8 306.5,471.4 313.4,449.9 322.2,430.4 330.0,420.6 339.8,415.1 345.6,415.1 350.5,420.6 356.4,433.3 361.3,449.9 368.1,475.3 375.0,492.0 380.8,494.9 385.7,490.0 393.5,469.5 400.0,455.8 405.9,442.1 411.7,430.4 419.6,420.6 429.3,413.2 439.1,411.8 445.9,412.4 452.8,421.6 460.6,437.2 467.4,457.7 472.3,477.3 477.2,492.9 483.1,504.7 488.0,511.5 491.9,513.9 497.8,507.6 502.6,498.8 508.5,485.1 515.3,465.6 522.2,447.0 528.1,439.8 532.9,442.1 540.8,451.9 549.6,470.4 556.4,477.3 568.1,483.2 573.0,491.0 578.9,496.8 583.8,504.3 588.7,505.6 593.5,499.8 597.5,490.0 600.0,483.2 605.9,469.5 610.8,460.7 614.7,458.1 619.6,461.7 625.4,475.3 632.3,494.9 639.1,511.5 645.0,519.3 649.9,521.7 656.7,521.7 662.6,518.3 667.4,511.5 674.3,496.8 680.2,481.2 686.0,459.7 689.0,451.9 691.5,448.4" fill="none" stroke="#ff0000" stroke-width="2" stroke-linejoin="round" shape-rendering="crispEdges"/>
<circle cx="90.3" cy="435.3" r="3" fill="none" stroke="#00cc00" stroke-width="1"/>
<circle cx="90.3" cy="440.3" r="3" fill="none" stroke="#505050" stroke-width="1"/>
<circle cx="90.3" cy="474.4" r="3" fill="none" stroke="#ff0000" stroke-width="1"/>
<circle cx="90.3" cy="500.4" r="3" fill="none" stroke="#505050" stroke-width="1"/>
<circle cx="683" cy="439.8" r="17.4" fill="none" stroke="#ff0000" stroke-width="3"/>
</g>
<rect x="718.5" y="428.5" width="89" height="21" fill="#fff" stroke="#ff0000" stroke-width="1" class="ce"/>
<text class="serif" x="724" y="444" font-size="10px" font-weight="bold" fill="#ff0000" stroke="#ff0000" stroke-width="0.3" textLength="77.5" lengthAdjust="spacing">SOBRECOMPRA</text>
<g clip-path="url(#cpMacd)">
<g class="ce">
<rect x="7" y="599" width="4" height="13" fill="#a83030"/>
<rect x="8" y="600" width="2" height="11" fill="#d86060"/>
<rect x="12" y="599" width="4" height="15" fill="#a83030"/>
<rect x="13" y="600" width="2" height="13" fill="#d86060"/>
<rect x="17" y="599" width="4" height="15" fill="#a83030"/>
<rect x="18" y="600" width="2" height="13" fill="#d86060"/>
<rect x="22" y="599" width="4" height="15" fill="#a83030"/>
<rect x="23" y="600" width="2" height="13" fill="#d86060"/>
<rect x="27" y="599" width="4" height="15" fill="#a83030"/>
<rect x="28" y="600" width="2" height="13" fill="#d86060"/>
<rect x="32" y="599" width="4" height="16" fill="#a83030"/>
<rect x="33" y="600" width="2" height="14" fill="#d86060"/>
<rect x="37" y="599" width="4" height="14" fill="#a83030"/>
<rect x="38" y="600" width="2" height="12" fill="#d86060"/>
<rect x="42" y="599" width="4" height="13" fill="#a83030"/>
<rect x="43" y="600" width="2" height="11" fill="#d86060"/>
<rect x="47" y="599" width="4" height="13" fill="#a83030"/>
<rect x="48" y="600" width="2" height="11" fill="#d86060"/>
<rect x="52" y="599" width="4" height="14" fill="#a83030"/>
<rect x="53" y="600" width="2" height="12" fill="#d86060"/>
<rect x="57" y="599" width="4" height="15" fill="#a83030"/>
<rect x="58" y="600" width="2" height="13" fill="#d86060"/>
<rect x="63" y="599" width="4" height="17" fill="#a83030"/>
<rect x="64" y="600" width="2" height="15" fill="#d86060"/>
<rect x="68" y="599" width="4" height="15" fill="#a83030"/>
<rect x="69" y="600" width="2" height="13" fill="#d86060"/>
<rect x="73" y="599" width="4" height="12" fill="#a83030"/>
<rect x="74" y="600" width="2" height="10" fill="#d86060"/>
<rect x="78" y="599" width="4" height="8" fill="#a83030"/>
<rect x="79" y="600" width="2" height="6" fill="#d86060"/>
<rect x="83" y="599" width="4" height="7" fill="#a83030"/>
<rect x="84" y="600" width="2" height="5" fill="#d86060"/>
<rect x="88" y="599" width="4" height="5" fill="#00c8d0"/>
<rect x="89" y="600" width="2" height="3" fill="#00e0e8"/>
<rect x="93" y="599" width="4" height="2" fill="#a83030"/>
<rect x="98" y="598" width="4" height="2" fill="#109010"/>
<rect x="103" y="597" width="4" height="3" fill="#109010"/>
<rect x="104" y="598" width="2" height="1" fill="#30c830"/>
<rect x="113" y="598" width="4" height="2" fill="#109010"/>
<rect x="119" y="594" width="4" height="6" fill="#109010"/>
<rect x="120" y="595" width="2" height="4" fill="#30c830"/>
<rect x="124" y="594" width="4" height="6" fill="#109010"/>
<rect x="125" y="595" width="2" height="4" fill="#30c830"/>
<rect x="129" y="596" width="4" height="4" fill="#109010"/>
<rect x="130" y="597" width="2" height="2" fill="#30c830"/>
<rect x="134" y="594" width="4" height="6" fill="#109010"/>
<rect x="135" y="595" width="2" height="4" fill="#30c830"/>
<rect x="139" y="594" width="4" height="6" fill="#109010"/>
<rect x="140" y="595" width="2" height="4" fill="#30c830"/>
<rect x="144" y="594" width="4" height="6" fill="#109010"/>
<rect x="145" y="595" width="2" height="4" fill="#30c830"/>
<rect x="149" y="594" width="4" height="6" fill="#109010"/>
<rect x="150" y="595" width="2" height="4" fill="#30c830"/>
<rect x="154" y="593" width="4" height="7" fill="#109010"/>
<rect x="155" y="594" width="2" height="5" fill="#30c830"/>
<rect x="159" y="594" width="4" height="6" fill="#109010"/>
<rect x="160" y="595" width="2" height="4" fill="#30c830"/>
<rect x="164" y="597" width="4" height="3" fill="#109010"/>
<rect x="165" y="598" width="2" height="1" fill="#30c830"/>
<rect x="175" y="599" width="4" height="3" fill="#a83030"/>
<rect x="176" y="600" width="2" height="1" fill="#d86060"/>
<rect x="180" y="599" width="4" height="4" fill="#a83030"/>
<rect x="181" y="600" width="2" height="2" fill="#d86060"/>
<rect x="185" y="599" width="4" height="4" fill="#a83030"/>
<rect x="186" y="600" width="2" height="2" fill="#d86060"/>
<rect x="190" y="599" width="4" height="4" fill="#a83030"/>
<rect x="191" y="600" width="2" height="2" fill="#d86060"/>
<rect x="195" y="599" width="4" height="4" fill="#a83030"/>
<rect x="196" y="600" width="2" height="2" fill="#d86060"/>
<rect x="200" y="599" width="4" height="5" fill="#a83030"/>
<rect x="201" y="600" width="2" height="3" fill="#d86060"/>
<rect x="205" y="599" width="4" height="4" fill="#a83030"/>
<rect x="206" y="600" width="2" height="2" fill="#d86060"/>
<rect x="210" y="599" width="4" height="5" fill="#a83030"/>
<rect x="211" y="600" width="2" height="3" fill="#d86060"/>
<rect x="215" y="599" width="4" height="5" fill="#a83030"/>
<rect x="216" y="600" width="2" height="3" fill="#d86060"/>
<rect x="220" y="599" width="4" height="5" fill="#a83030"/>
<rect x="221" y="600" width="2" height="3" fill="#d86060"/>
<rect x="225" y="599" width="4" height="4" fill="#a83030"/>
<rect x="226" y="600" width="2" height="2" fill="#d86060"/>
<rect x="231" y="599" width="4" height="6" fill="#a83030"/>
<rect x="232" y="600" width="2" height="4" fill="#d86060"/>
<rect x="236" y="599" width="4" height="6" fill="#a83030"/>
<rect x="237" y="600" width="2" height="4" fill="#d86060"/>
<rect x="241" y="599" width="4" height="7" fill="#a83030"/>
<rect x="242" y="600" width="2" height="5" fill="#d86060"/>
<rect x="246" y="599" width="4" height="5" fill="#a83030"/>
<rect x="247" y="600" width="2" height="3" fill="#d86060"/>
<rect x="251" y="599" width="4" height="8" fill="#a83030"/>
<rect x="252" y="600" width="2" height="6" fill="#d86060"/>
<rect x="256" y="599" width="4" height="9" fill="#a83030"/>
<rect x="257" y="600" width="2" height="7" fill="#d86060"/>
<rect x="261" y="599" width="4" height="10" fill="#a83030"/>
<rect x="262" y="600" width="2" height="8" fill="#d86060"/>
<rect x="266" y="599" width="4" height="11" fill="#a83030"/>
<rect x="267" y="600" width="2" height="9" fill="#d86060"/>
<rect x="271" y="599" width="4" height="12" fill="#a83030"/>
<rect x="272" y="600" width="2" height="10" fill="#d86060"/>
<rect x="276" y="599" width="4" height="12" fill="#a83030"/>
<rect x="277" y="600" width="2" height="10" fill="#d86060"/>
<rect x="281" y="599" width="4" height="10" fill="#a83030"/>
<rect x="282" y="600" width="2" height="8" fill="#d86060"/>
<rect x="287" y="599" width="4" height="9" fill="#a83030"/>
<rect x="288" y="600" width="2" height="7" fill="#d86060"/>
<rect x="292" y="599" width="4" height="4" fill="#a83030"/>
<rect x="293" y="600" width="2" height="2" fill="#d86060"/>
<rect x="297" y="599" width="4" height="2" fill="#a83030"/>
<rect x="307" y="597" width="4" height="3" fill="#109010"/>
<rect x="308" y="598" width="2" height="1" fill="#30c830"/>
<rect x="312" y="594" width="4" height="6" fill="#109010"/>
<rect x="313" y="595" width="2" height="4" fill="#30c830"/>
<rect x="317" y="591" width="4" height="9" fill="#109010"/>
<rect x="318" y="592" width="2" height="7" fill="#30c830"/>
<rect x="322" y="587" width="4" height="13" fill="#109010"/>
<rect x="323" y="588" width="2" height="11" fill="#30c830"/>
<rect x="327" y="585" width="4" height="15" fill="#109010"/>
<rect x="328" y="586" width="2" height="13" fill="#30c830"/>
<rect x="332" y="583" width="4" height="17" fill="#109010"/>
<rect x="333" y="584" width="2" height="15" fill="#30c830"/>
<rect x="337" y="579" width="4" height="21" fill="#109010"/>
<rect x="338" y="580" width="2" height="19" fill="#30c830"/>
<rect x="343" y="581" width="4" height="19" fill="#109010"/>
<rect x="344" y="582" width="2" height="17" fill="#30c830"/>
<rect x="348" y="585" width="4" height="15" fill="#109010"/>
<rect x="349" y="586" width="2" height="13" fill="#30c830"/>
<rect x="353" y="590" width="4" height="10" fill="#109010"/>
<rect x="354" y="591" width="2" height="8" fill="#30c830"/>
<rect x="358" y="595" width="4" height="5" fill="#109010"/>
<rect x="359" y="596" width="2" height="3" fill="#30c830"/>
<rect x="363" y="596" width="4" height="4" fill="#109010"/>
<rect x="364" y="597" width="2" height="2" fill="#30c830"/>
<rect x="368" y="593" width="4" height="7" fill="#109010"/>
<rect x="369" y="594" width="2" height="5" fill="#30c830"/>
<rect x="373" y="591" width="4" height="9" fill="#109010"/>
<rect x="374" y="592" width="2" height="7" fill="#30c830"/>
<rect x="378" y="593" width="4" height="7" fill="#109010"/>
<rect x="379" y="594" width="2" height="5" fill="#30c830"/>
<rect x="383" y="593" width="4" height="7" fill="#109010"/>
<rect x="384" y="594" width="2" height="5" fill="#30c830"/>
<rect x="388" y="590" width="4" height="10" fill="#109010"/>
<rect x="389" y="591" width="2" height="8" fill="#30c830"/>
<rect x="393" y="589" width="4" height="11" fill="#109010"/>
<rect x="394" y="590" width="2" height="9" fill="#30c830"/>
<rect x="399" y="588" width="4" height="12" fill="#109010"/>
<rect x="400" y="589" width="2" height="10" fill="#30c830"/>
<rect x="404" y="587" width="4" height="13" fill="#109010"/>
<rect x="405" y="588" width="2" height="11" fill="#30c830"/>
<rect x="409" y="582" width="4" height="18" fill="#109010"/>
<rect x="410" y="583" width="2" height="16" fill="#30c830"/>
<rect x="414" y="579" width="4" height="21" fill="#109010"/>
<rect x="415" y="580" width="2" height="19" fill="#30c830"/>
<rect x="419" y="577" width="4" height="23" fill="#109010"/>
<rect x="420" y="578" width="2" height="21" fill="#30c830"/>
<rect x="424" y="577" width="4" height="23" fill="#109010"/>
<rect x="425" y="578" width="2" height="21" fill="#30c830"/>
<rect x="429" y="573" width="4" height="27" fill="#109010"/>
<rect x="430" y="574" width="2" height="25" fill="#30c830"/>
<rect x="434" y="572" width="4" height="28" fill="#109010"/>
<rect x="435" y="573" width="2" height="26" fill="#30c830"/>
<rect x="439" y="574" width="4" height="26" fill="#109010"/>
<rect x="440" y="575" width="2" height="24" fill="#30c830"/>
<rect x="444" y="575" width="4" height="25" fill="#109010"/>
<rect x="445" y="576" width="2" height="23" fill="#30c830"/>
<rect x="449" y="580" width="4" height="20" fill="#109010"/>
<rect x="450" y="581" width="2" height="18" fill="#30c830"/>
<rect x="455" y="584" width="4" height="16" fill="#109010"/>
<rect x="456" y="585" width="2" height="14" fill="#30c830"/>
<rect x="460" y="585" width="4" height="15" fill="#109010"/>
<rect x="461" y="586" width="2" height="13" fill="#30c830"/>
<rect x="465" y="589" width="4" height="11" fill="#109010"/>
<rect x="466" y="590" width="2" height="9" fill="#30c830"/>
<rect x="470" y="593" width="4" height="7" fill="#109010"/>
<rect x="471" y="594" width="2" height="5" fill="#30c830"/>
<rect x="475" y="599" width="4" height="2" fill="#a83030"/>
<rect x="480" y="599" width="4" height="4" fill="#a83030"/>
<rect x="481" y="600" width="2" height="2" fill="#d86060"/>
<rect x="485" y="599" width="4" height="5" fill="#a83030"/>
<rect x="486" y="600" width="2" height="3" fill="#d86060"/>
<rect x="490" y="599" width="4" height="4" fill="#a83030"/>
<rect x="491" y="600" width="2" height="2" fill="#d86060"/>
<rect x="495" y="599" width="4" height="4" fill="#a83030"/>
<rect x="496" y="600" width="2" height="2" fill="#d86060"/>
<rect x="500" y="599" width="4" height="2" fill="#a83030"/>
<rect x="506" y="596" width="4" height="4" fill="#109010"/>
<rect x="507" y="597" width="2" height="2" fill="#30c830"/>
<rect x="511" y="596" width="4" height="4" fill="#109010"/>
<rect x="512" y="597" width="2" height="2" fill="#30c830"/>
<rect x="516" y="595" width="4" height="5" fill="#109010"/>
<rect x="517" y="596" width="2" height="3" fill="#30c830"/>
<rect x="521" y="593" width="4" height="7" fill="#109010"/>
<rect x="522" y="594" width="2" height="5" fill="#30c830"/>
<rect x="526" y="595" width="4" height="5" fill="#109010"/>
<rect x="527" y="596" width="2" height="3" fill="#30c830"/>
<rect x="531" y="596" width="4" height="4" fill="#109010"/>
<rect x="532" y="597" width="2" height="2" fill="#30c830"/>
<rect x="536" y="597" width="4" height="3" fill="#109010"/>
<rect x="537" y="598" width="2" height="1" fill="#30c830"/>
<rect x="541" y="597" width="4" height="3" fill="#109010"/>
<rect x="542" y="598" width="2" height="1" fill="#30c830"/>
<rect x="546" y="595" width="4" height="5" fill="#109010"/>
<rect x="547" y="596" width="2" height="3" fill="#30c830"/>
<rect x="551" y="598" width="4" height="2" fill="#109010"/>
<rect x="556" y="598" width="4" height="2" fill="#109010"/>
<rect x="562" y="599" width="4" height="2" fill="#a83030"/>
<rect x="567" y="599" width="4" height="3" fill="#a83030"/>
<rect x="568" y="600" width="2" height="1" fill="#d86060"/>
<rect x="572" y="599" width="4" height="6" fill="#a83030"/>
<rect x="573" y="600" width="2" height="4" fill="#d86060"/>
<rect x="577" y="599" width="4" height="4" fill="#a83030"/>
<rect x="578" y="600" width="2" height="2" fill="#d86060"/>
<rect x="582" y="599" width="4" height="6" fill="#a83030"/>
<rect x="583" y="600" width="2" height="4" fill="#d86060"/>
<rect x="587" y="599" width="4" height="2" fill="#a83030"/>
<rect x="592" y="596" width="4" height="4" fill="#109010"/>
<rect x="593" y="597" width="2" height="2" fill="#30c830"/>
<rect x="597" y="595" width="4" height="5" fill="#109010"/>
<rect x="598" y="596" width="2" height="3" fill="#30c830"/>
<rect x="602" y="596" width="4" height="4" fill="#109010"/>
<rect x="603" y="597" width="2" height="2" fill="#30c830"/>
<rect x="612" y="599" width="4" height="3" fill="#a83030"/>
<rect x="613" y="600" width="2" height="1" fill="#d86060"/>
<rect x="618" y="599" width="4" height="4" fill="#a83030"/>
<rect x="619" y="600" width="2" height="2" fill="#d86060"/>
<rect x="623" y="599" width="4" height="7" fill="#a83030"/>
<rect x="624" y="600" width="2" height="5" fill="#d86060"/>
<rect x="628" y="599" width="4" height="12" fill="#a83030"/>
<rect x="629" y="600" width="2" height="10" fill="#d86060"/>
<rect x="633" y="599" width="4" height="21" fill="#a83030"/>
<rect x="634" y="600" width="2" height="19" fill="#d86060"/>
<rect x="638" y="599" width="4" height="24" fill="#a83030"/>
<rect x="639" y="600" width="2" height="22" fill="#d86060"/>
<rect x="643" y="599" width="4" height="25" fill="#a83030"/>
<rect x="644" y="600" width="2" height="23" fill="#d86060"/>
<rect x="648" y="599" width="4" height="24" fill="#a83030"/>
<rect x="649" y="600" width="2" height="22" fill="#d86060"/>
<rect x="653" y="599" width="4" height="24" fill="#a83030"/>
<rect x="654" y="600" width="2" height="22" fill="#d86060"/>
<rect x="658" y="599" width="4" height="22" fill="#a83030"/>
<rect x="659" y="600" width="2" height="20" fill="#d86060"/>
<rect x="663" y="599" width="4" height="19" fill="#a83030"/>
<rect x="664" y="600" width="2" height="17" fill="#d86060"/>
<rect x="668" y="599" width="4" height="15" fill="#a83030"/>
<rect x="669" y="600" width="2" height="13" fill="#d86060"/>
<rect x="674" y="599" width="4" height="12" fill="#a83030"/>
<rect x="675" y="600" width="2" height="10" fill="#d86060"/>
<rect x="679" y="599" width="4" height="9" fill="#a83030"/>
<rect x="680" y="600" width="2" height="7" fill="#d86060"/>
<rect x="684" y="599" width="4" height="5" fill="#a83030"/>
<rect x="685" y="600" width="2" height="3" fill="#d86060"/>
<rect x="689" y="599" width="4" height="6" fill="#a83030"/>
<rect x="690" y="600" width="2" height="4" fill="#d86060"/>
<rect x="2" y="599" width="1014" height="1" fill="#3838d8"/>
</g>
<polyline points="9.1,591.3 20.1,599.3 34.2,610.4 50.3,620.5 64.4,630.5 76.5,637.6 86.5,640.0 96.6,641.2 106.6,640.6 116.7,640.6 128.8,637.6 140.8,635.2 152.9,632.5 161.0,630.1 171.0,630.1 181.1,631.5 191.1,633.6 200.0,635.0 216.1,638.6 232.2,641.6 248.3,645.6 264.4,652.7 280.5,661.7 292.6,665.3 302.6,665.7 314.7,664.1 328.8,656.7 340.8,646.6 352.9,638.6 361.0,636.6 367.0,635.6 375.1,631.9 381.1,630.9 389.1,627.5 400.0,622.9 406.0,620.5 416.1,610.4 428.2,598.3 440.2,583.3 450.3,571.2 460.4,564.1 472.4,559.1 480.5,561.1 490.5,563.1 500.6,563.7 512.7,562.1 524.7,560.1 540.8,558.7 552.9,557.1 561.0,556.5 569.0,557.1 577.1,560.1 585.1,561.5 593.2,561.1 600.0,560.1 608.0,559.1 616.1,561.1 624.1,562.1 630.2,565.1 638.2,573.2 648.3,586.3 660.4,599.3 670.4,607.4 680.5,611.8 692.0,614.4" fill="none" stroke="#e05858" stroke-width="1" stroke-linejoin="round" shape-rendering="crispEdges"/>
<polyline points="9.1,604.4 20.1,614.4 34.2,625.5 40.2,627.1 50.3,633.6 60.4,641.6 69.4,648.2 80.5,645.6 90.5,645.2 96.6,641.6 104.6,639.6 114.7,640.0 121.7,634.6 132.8,634.0 144.9,629.5 152.9,627.9 159.0,626.5 165.0,627.1 173.0,630.5 187.1,636.6 200.0,638.6 208.0,639.6 216.1,642.6 226.2,644.6 236.2,647.6 242.3,650.7 248.3,650.7 254.3,656.3 264.4,660.7 270.4,666.2 280.5,672.2 288.5,672.4 296.6,667.8 304.6,667.2 312.7,659.7 322.7,649.7 330.8,639.6 339.8,627.5 345.9,625.5 352.9,628.5 361.0,632.5 365.0,633.6 373.0,627.1 377.1,625.5 385.1,624.5 390.1,619.5 400.0,613.4 408.0,605.4 412.1,595.3 420.1,583.3 432.2,566.2 440.2,558.1 446.7,551.1 452.3,551.1 457.3,552.5 462.4,550.1 467.4,552.1 472.4,554.7 477.5,561.1 486.5,566.2 496.6,567.2 502.6,564.7 508.7,560.1 516.7,559.1 523.7,554.7 528.8,556.7 536.8,557.1 542.9,556.1 548.9,554.1 553.9,556.5 557.9,555.1 565.0,558.1 571.0,561.1 575.1,564.1 579.1,563.5 584.7,566.2 591.1,561.1 596.2,557.5 600.0,556.5 605.0,556.5 610.1,561.1 616.1,563.7 620.1,564.1 626.2,569.2 632.2,581.2 640.2,599.3 648.3,610.4 656.3,618.5 664.4,621.5 672.4,621.5 680.5,620.1 686.5,618.5 692.0,619.5" fill="none" stroke="#2828e8" stroke-width="1" stroke-linejoin="round" shape-rendering="crispEdges"/>
<circle cx="90.5" cy="641" r="3" fill="none" stroke="#e05858" stroke-width="1"/>
<circle cx="90.5" cy="645.2" r="3" fill="none" stroke="#2828e8" stroke-width="1"/>
</g>
<rect x="709.5" y="618.5" width="86" height="22" fill="#fff" stroke="#ff0000" stroke-width="1" class="ce"/>
<text x="714" y="635.8" font-size="12.5px" font-weight="bold" fill="#f00000" textLength="75" lengthAdjust="spacingAndGlyphs" xml:space="preserve" style="white-space:pre">macd  bajista</text>
<rect x="1018" y="89" width="4" height="1" fill="#000" class="ce"/>
<text x="1024.5" y="93.5" font-size="12.5px" font-weight="bold" fill="#000">115</text>
<rect x="1018" y="139" width="4" height="1" fill="#000" class="ce"/>
<text x="1023" y="143.3" font-size="11px" fill="#000">114</text>
<rect x="1018" y="188" width="4" height="1" fill="#000" class="ce"/>
<text x="1023" y="192.3" font-size="11px" fill="#000">113</text>
<rect x="1018" y="238" width="4" height="1" fill="#000" class="ce"/>
<text x="1023" y="242.3" font-size="11px" fill="#000">112</text>
<rect x="1018" y="287" width="4" height="1" fill="#000" class="ce"/>
<text x="1023" y="291.3" font-size="11px" fill="#000">111</text>
<rect x="1018" y="336" width="4" height="1" fill="#000" class="ce"/>
<text x="1024.5" y="340.5" font-size="12.5px" font-weight="bold" fill="#000">110</text>
<rect x="1018" y="386" width="4" height="1" fill="#000" class="ce"/>
<text x="1023" y="390.3" font-size="11px" fill="#000">109</text>
<rect x="1018" y="411" width="4" height="1" fill="#000" class="ce"/>
<text x="1024.5" y="415.5" font-size="12.5px" font-weight="bold" fill="#000">100</text>
<rect x="1018" y="435" width="4" height="1" fill="#000" class="ce"/>
<text x="1023" y="439.3" font-size="11px" fill="#000">80</text>
<rect x="1018" y="459" width="4" height="1" fill="#000" class="ce"/>
<text x="1023" y="463.3" font-size="11px" fill="#000">60</text>
<rect x="1018" y="482" width="4" height="1" fill="#000" class="ce"/>
<text x="1023" y="486.3" font-size="11px" fill="#000">40</text>
<rect x="1018" y="506" width="4" height="1" fill="#000" class="ce"/>
<text x="1023" y="510.3" font-size="11px" fill="#000">20</text>
<rect x="1018" y="530" width="4" height="1" fill="#000" class="ce"/>
<text x="1024.5" y="534.5" font-size="12.5px" font-weight="bold" fill="#000">0</text>
<rect x="1018" y="423" width="2" height="1" fill="#000" class="ce"/>
<rect x="1018" y="447" width="2" height="1" fill="#000" class="ce"/>
<rect x="1018" y="470" width="2" height="1" fill="#000" class="ce"/>
<rect x="1018" y="494" width="2" height="1" fill="#000" class="ce"/>
<rect x="1018" y="518" width="2" height="1" fill="#000" class="ce"/>
<rect x="1018" y="555" width="4" height="1" fill="#000" class="ce"/>
<text x="1023" y="559.3" font-size="11px" fill="#000">0,5</text>
<rect x="1018" y="599" width="4" height="1" fill="#000" class="ce"/>
<text x="1023" y="603.3" font-size="11px" fill="#000">0</text>
<rect x="1018" y="643" width="4" height="1" fill="#000" class="ce"/>
<text x="1023" y="647.3" font-size="11px" fill="#000">-0,5</text>
<rect x="1022.5" y="86.5" width="35" height="17" fill="#fff" stroke="#000" stroke-width="1" class="ce"/>
<text x="1024" y="98.7" font-size="11px" fill="#0040ff" textLength="32.3" lengthAdjust="spacingAndGlyphs">114,89</text>
<rect x="1022.5" y="170.5" width="35" height="17" fill="#fff" stroke="#000" stroke-width="1" class="ce"/>
<text x="1024" y="182.7" font-size="11px" fill="#ff0000" textLength="32.3" lengthAdjust="spacingAndGlyphs">113,18</text>
<rect x="1022.5" y="226.5" width="35" height="15" fill="#fff" stroke="#000" stroke-width="1" class="ce"/>
<text x="1024" y="236.9" font-size="11px" fill="#40c040" textLength="32.3" lengthAdjust="spacingAndGlyphs">112,09</text>
<rect x="1022" y="209" width="36" height="18" fill="#ffc000" class="ce"/>
<text x="1024" y="221.7" font-size="11px" fill="#000" textLength="32.3" lengthAdjust="spacingAndGlyphs">112,41</text>
<rect x="1022" y="226" width="36" height="1" fill="#000" class="ce"/>
<rect x="1022.5" y="255.5" width="35" height="17" fill="#fff" stroke="#000" stroke-width="1" class="ce"/>
<text x="1024" y="267.7" font-size="11px" fill="#0000e0" textLength="32.3" lengthAdjust="spacingAndGlyphs">111,48</text>
<rect x="1022.5" y="425.5" width="29" height="17" fill="#fff" stroke="#000" stroke-width="1" class="ce"/>
<text x="1024" y="437.7" font-size="11px" fill="#00cc00" textLength="26.5" lengthAdjust="spacingAndGlyphs">80,92</text>
<rect x="1022.5" y="442.5" width="29" height="14" fill="#fff" stroke="#000" stroke-width="1" class="ce"/>
<text x="1024" y="451.9" font-size="11px" fill="#ff0000" textLength="26.5" lengthAdjust="spacingAndGlyphs">68,82</text>
<rect x="1022.5" y="491.5" width="14" height="17" fill="#fff" stroke="#000" stroke-width="1" class="ce"/>
<text x="1024" y="503.7" font-size="11px" fill="#707070" textLength="11.5" lengthAdjust="spacingAndGlyphs">25</text>
<rect x="1022.5" y="590.5" width="8" height="5" fill="#fff" stroke="#000" stroke-width="1" class="ce"/>
<rect x="1022.5" y="623.5" width="39" height="5" fill="#fff" stroke="#000" stroke-width="1" class="ce"/>
<rect x="1035" y="624" width="1" height="3" fill="#3030e0" class="ce"/>
<rect x="1022.5" y="612.5" width="39" height="11" fill="#fff" stroke="#000" stroke-width="1" class="ce"/>
<clipPath id="cpb"><rect x="1023" y="613" width="39" height="10"/></clipPath>
<g clip-path="url(#cpb)"><text x="1024" y="619.2" font-size="11.5px" fill="#e05050" textLength="36.4" lengthAdjust="spacingAndGlyphs">-0,1767</text></g>
<rect x="1022.5" y="595.5" width="39" height="17" fill="#fff" stroke="#000" stroke-width="1" class="ce"/>
<text x="1024" y="608.3" font-size="11.5px" fill="#e05050" textLength="36.4" lengthAdjust="spacingAndGlyphs">-0,0576</text>
<polygon points="1011,108 1016,112 1011,116" fill="#ff0000"/>
<polygon points="1011,146 1016,150 1011,154" fill="#000"/>
<polygon points="1011,164 1016,168 1011,172" fill="#40c040"/>
<polygon points="1011,174.5 1016,178.5 1011,182.5" fill="#0030ff"/>
<polygon points="1011,430.5 1016,434.5 1011,438.5" fill="#00cc00"/>
<polygon points="1011,436 1016,440 1011,444" fill="#707070"/>
<polygon points="1011,470.5 1016,474.5 1011,478.5" fill="#ff0000"/>
<polygon points="1011,496.5 1016,500.5 1011,504.5" fill="#707070"/>
<polygon points="1011,599 1016,603 1011,607" fill="#e06060"/>
<polygon points="1011,636 1016,640 1011,644" fill="#e06060"/>
<polygon points="1011,641 1016,645 1011,649" fill="#2030e8"/>
<rect x="29" y="682" width="1" height="4" fill="#000" class="ce"/>
<text x="29.5" y="698" font-size="11px" fill="#000" text-anchor="middle">Abr</text>
<rect x="233" y="682" width="1" height="4" fill="#000" class="ce"/>
<text x="233.5" y="698" font-size="11px" fill="#000" text-anchor="middle">Jun</text>
<rect x="339" y="682" width="1" height="4" fill="#000" class="ce"/>
<text x="339.5" y="698" font-size="11px" fill="#000" text-anchor="middle">Jul</text>
<rect x="451" y="682" width="1" height="4" fill="#000" class="ce"/>
<text x="451.5" y="698" font-size="11px" fill="#000" text-anchor="middle">Ago</text>
<rect x="569" y="682" width="1" height="4" fill="#000" class="ce"/>
<text x="569.5" y="698" font-size="11px" fill="#000" text-anchor="middle">Sep</text>
<rect x="670" y="682" width="1" height="4" fill="#000" class="ce"/>
<text x="670.5" y="698" font-size="11px" fill="#000" text-anchor="middle">Oct</text>
<rect x="788" y="682" width="1" height="4" fill="#000" class="ce"/>
<text x="788.5" y="698" font-size="11px" fill="#000" text-anchor="middle">Nov</text>
<rect x="900" y="682" width="1" height="4" fill="#000" class="ce"/>
<text x="900.5" y="698" font-size="11px" fill="#000" text-anchor="middle">Dic</text>
<rect x="126" y="682" width="1" height="4" fill="#000" class="ce"/>
<text x="127" y="698" font-size="11px" fill="#000" text-anchor="middle">May</text>
<rect x="986" y="682" width="1" height="4" fill="#000" class="ce"/>
<text x="986.5" y="698" font-size="12.5px" font-weight="bold" fill="#000" text-anchor="middle">2008</text>
<rect x="68.5" y="685.5" width="62" height="14" fill="#ffff00" stroke="#000" stroke-width="1" class="ce"/>
<text x="71" y="697" font-size="11px" fill="#000" textLength="57.5" lengthAdjust="spacingAndGlyphs">24 Abr 2007</text>
</svg></body></html>
